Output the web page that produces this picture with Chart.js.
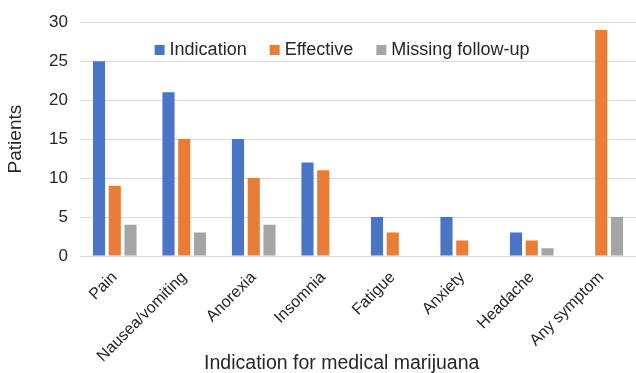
<!DOCTYPE html>
<html>
<head>
<meta charset="utf-8">
<script src="https://cdn.jsdelivr.net/npm/chart.js@4"></script>
<style>
  html, body { margin: 0; padding: 0; background: #fff; }
  #wrap { width: 636px; height: 373px; }
</style>
</head>
<body>
<div id="wrap"><canvas id="chart" width="636" height="373"></canvas></div>
<script>
// ===== DATA =====
const categories = ['Pain', 'Nausea/vomiting', 'Anorexia', 'Insomnia', 'Fatigue', 'Anxiety', 'Headache', 'Any symptom'];
const indication = [25, 21, 15, 12, 5, 5, 3, null];
const effective = [9, 15, 10, 11, 3, 2, 2, 29];
const missingFollowUp = [4, 3, 4, null, null, null, 1, 5];
const yTicks = [0, 5, 10, 15, 20, 25, 30];

const FONT = "'Liberation Sans', Arial, sans-serif";
const TEXT = '#262626';

function series(label, data, color) {
    return {
        label: label,
        data: data,
        backgroundColor: color,
        borderWidth: 0,
        barPercentage: 0.77,
        categoryPercentage: 0.68
    };
}

// ===== LEGEND (drawn inside the plot area, one row) =====
const inlineLegend = {
    id: 'inlineLegend',
    afterDraw(chart) {
        const ctx = chart.ctx;
        const box = 10, gap = 5, itemGap = 23;
        ctx.save();
        ctx.font = '18px ' + FONT;
        ctx.textBaseline = 'middle';
        const items = chart.data.datasets.map(ds => ({
            label: ds.label,
            color: ds.backgroundColor,
            w: box + gap + ctx.measureText(ds.label).width
        }));
        const total = items.reduce((s, it) => s + it.w, 0) + itemGap * (items.length - 1);
        let x = 342 - total / 2;
        const y = 50;
        items.forEach(it => {
            ctx.fillStyle = it.color;
            ctx.fillRect(x, y - box / 2, box, box);
            ctx.fillStyle = TEXT;
            ctx.fillText(it.label, x + box + gap, y);
            x += it.w + itemGap;
        });
        ctx.restore();
    }
};

new Chart(document.getElementById('chart'), {
    type: 'bar',
    data: {
        labels: categories,
        datasets: [
            series('Indication', indication, '#4A75C7'),
            series('Effective', effective, '#E97C36'),
            series('Missing follow-up', missingFollowUp, '#A5A5A5')
        ]
    },
    plugins: [inlineLegend],
    options: {
        responsive: false,
        animation: false,
        layout: { padding: { left: 4, right: 0, top: 8, bottom: 0 } },
        plugins: {
            legend: { display: false },
            tooltip: { enabled: false }
        },
        scales: {
            x: {
                grid: { display: false },
                border: { display: false },
                ticks: {
                    autoSkip: false,
                    minRotation: 45,
                    maxRotation: 45,
                    padding: 4,
                    color: TEXT,
                    font: { family: FONT, size: 16 }
                },
                title: {
                    display: true,
                    text: 'Indication for medical marijuana      ',
                    color: TEXT,
                    font: { family: FONT, size: 19.5 },
                    padding: { top: 0, bottom: -2 }
                },
                afterFit(scale) { scale.height = 117; }
            },
            y: {
                min: 0,
                max: 30,
                afterBuildTicks(scale) { scale.ticks = yTicks.map(v => ({ value: v })); },
                grid: { color: '#d9d9d9', lineWidth: 1, drawTicks: false },
                border: { display: false },
                ticks: {
                    padding: 12,
                    color: TEXT,
                    font: { family: FONT, size: 17 }
                },
                title: {
                    display: true,
                    text: 'Patients',
                    color: TEXT,
                    font: { family: FONT, size: 19 },
                    padding: 0
                },
                afterFit(scale) { scale.width = 76; }
            }
        }
    }
});
</script>
</body>
</html>
